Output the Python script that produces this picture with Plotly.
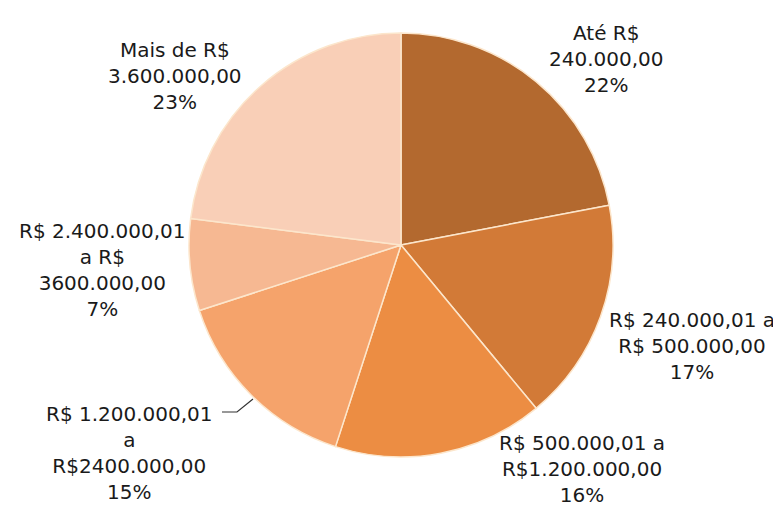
import plotly.graph_objects as go

# Faixas de faturamento e participação (%)
faixas = [
    "Até R$<br>240.000,00",
    "R$ 240.000,01 a<br>R$ 500.000,00",
    "R$ 500.000,01 a<br>R$1.200.000,00",
    "R$ 1.200.000,01<br>a<br>R$2400.000,00",
    "R$ 2.400.000,01<br>a R$<br>3600.000,00",
    "Mais de R$<br>3.600.000,00",
]
percentuais = [22, 17, 16, 15, 7, 23]
cores = ["#B3692F", "#D27A37", "#EC8D43", "#F5A36B", "#F6B892", "#F9CFB7"]

# label centres in pixels (x, y) of the page as photographed
label_pos = [(606, 59), (692, 346), (582, 469), (130, 453), (102, 270), (175, 76)]

W, H = 781, 514
OFF = 8  # the page body margin shifts the figure by 8px
cx, cy, r = 401 - OFF, 245 - OFF, 212


def px(x):
    return (x - OFF) / W


def py(y):
    return 1 - (y - OFF) / H


fig = go.Figure()
fig.add_trace(go.Pie(
    values=percentuais,
    labels=[f.replace("<br>", " ") for f in faixas],
    marker=dict(colors=cores, line=dict(color="#FCE6CC", width=1.5)),
    sort=False,
    direction="clockwise",
    rotation=0,
    textinfo="none",
    hoverinfo="label+percent",
    domain=dict(x=[(cx - r) / W, (cx + r) / W], y=[1 - (cy + r) / H, 1 - (cy - r) / H]),
    showlegend=False,
))

for txt, pct, (lx, ly) in zip(faixas, percentuais, label_pos):
    fig.add_annotation(
        x=px(lx), y=py(ly),
        xref="paper", yref="paper",
        text=f"{txt}<br>{pct}%",
        showarrow=False,
        xanchor="center", yanchor="middle",
        align="center",
        font=dict(family="DejaVu Sans", size=20, color="#1a1a1a"),
    )

# leader line for the 15% slice
fig.add_shape(
    type="path",
    path=f"M {px(222)} {py(412)} L {px(237)} {py(412)} L {px(253)} {py(399)}",
    xref="paper", yref="paper",
    line=dict(color="#333333", width=1.2),
)

fig.update_layout(
    width=W, height=H,
    margin=dict(l=0, r=0, t=0, b=0),
    paper_bgcolor="white",
    plot_bgcolor="white",
)

fig.write_html("out.html")
